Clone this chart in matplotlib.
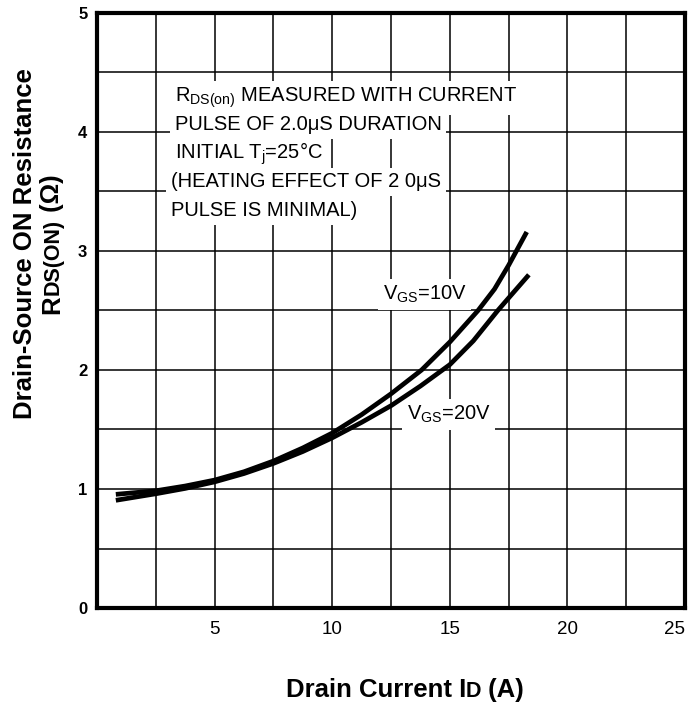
import matplotlib
matplotlib.use("Agg")
import matplotlib.pyplot as plt
from matplotlib.transforms import ScaledTranslation

plt.rcParams["font.family"] = ["Liberation Sans", "DejaVu Sans"]
plt.rcParams["mathtext.default"] = "regular"

# drain current (A) and on-resistance (ohm)
id_10v = [0.8, 2.5, 3.75, 5, 6.25, 7.5, 8.75, 10, 11.25, 12.5, 13.8, 15, 16.2, 16.9, 17.5, 18.27]
rds_10v = [0.955, 0.985, 1.025, 1.075, 1.145, 1.235, 1.345, 1.47, 1.625, 1.80, 2.0, 2.235,
           2.5, 2.68, 2.88, 3.16]
id_20v = [0.8, 2.5, 3.75, 5, 6.25, 7.5, 8.75, 10, 11.25, 12.5, 13.75, 15, 16, 17.04, 17.5, 18.36]
rds_20v = [0.905, 0.96, 1.005, 1.06, 1.13, 1.215, 1.315, 1.43, 1.56, 1.70, 1.865, 2.045,
           2.245, 2.5, 2.605, 2.80]

x_ticks = [5, 10, 15, 20, 25]
y_ticks = [0, 1, 2, 3, 4, 5]

note_lines = [
    r"R$_{\mathregular{DS(on)}}$ MEASURED WITH CURRENT",
    "PULSE OF 2.0\u03bcS DURATION",
    "INITIAL T$_{\\mathregular{j}}$=25\u00b0C",
    "(HEATING EFFECT OF 2 0\u03bcS",
    "PULSE IS MINIMAL)",
]
curve_labels = [r"V$_{\mathregular{GS}}$=10V", r"V$_{\mathregular{GS}}$=20V"]


def draw_pieces(fig, pieces, x, y, rotation=0):
    # lay out text pieces of mixed size on one baseline, centred on (x, y)
    renderer = fig.canvas.get_renderer()
    widths = []
    for text, size in pieces:
        t = fig.text(0, 0, text, fontsize=size, fontweight="bold")
        widths.append(t.get_window_extent(renderer).width)
        t.remove()
    offset = -sum(widths) / 2
    for (text, size), w in zip(pieces, widths):
        if rotation == 90:
            shift = ScaledTranslation(0, offset / fig.dpi, fig.dpi_scale_trans)
        else:
            shift = ScaledTranslation(offset / fig.dpi, 0, fig.dpi_scale_trans)
        fig.text(x, y, text, fontsize=size, fontweight="bold", rotation=rotation,
                 rotation_mode="anchor", ha="left", va="baseline",
                 transform=fig.transFigure + shift)
        offset += w


fig = plt.figure(figsize=(6.93, 7.02), dpi=100)
ax = fig.add_axes([0.14, 0.1339, 0.8485, 0.8476])

for xs, ys in [(id_10v, rds_10v), (id_20v, rds_20v)]:
    ax.plot(xs, ys, color="black", lw=3.4, solid_capstyle="butt",
            solid_joinstyle="round", zorder=3)

ax.set_xlim(0, 25)
ax.set_ylim(0, 5)
ax.set_xticks(x_ticks)
ax.set_xticks([v + 2.5 for v in [0] + x_ticks[:-1]], minor=True)
ax.set_yticks(y_ticks)
ax.set_yticks([v + 0.5 for v in y_ticks[:-1]], minor=True)
ax.grid(which="both", color="black", lw=1.1, zorder=1)
ax.set_axisbelow(True)
ax.tick_params(which="both", length=0)
ax.tick_params(axis="x", pad=9, labelsize=13.5)
ax.tick_params(axis="y", pad=7, labelsize=12)
for lab in ax.get_yticklabels():
    lab.set_fontweight("bold")
# keep the last x label inside the figure
ax.get_xticklabels()[-1].set_horizontalalignment("right")
for sp in ax.spines.values():
    sp.set_linewidth(3)

box = dict(facecolor="white", edgecolor="none", pad=3.5)
note_x = [3.3, 3.3, 3.3, 3.15, 3.15]
note_y = [4.252, 4.013, 3.773, 3.534, 3.294]
for text, nx, ny in zip(note_lines, note_x, note_y):
    ax.text(nx, ny, text, fontsize=14.5, va="baseline", ha="left", bbox=box, zorder=2)

ax.text(12.14, 2.59, curve_labels[0], fontsize=14.5, va="baseline", bbox=box, zorder=2)
ax.text(13.16, 1.58, curve_labels[1], fontsize=14.5, va="baseline", bbox=box, zorder=2)

draw_pieces(fig, [("Drain-Source ON Resistance", 18.5)], 0.0462, 0.6524, rotation=90)
draw_pieces(fig, [("R", 18.5), ("DS(ON)", 15.5), (" (\u03a9)", 18.5)], 0.0851, 0.6524, rotation=90)
draw_pieces(fig, [("Drain Current I", 18.5), ("D", 15.5), (" (A)", 18.5)], 0.5844, 0.0071)

fig.savefig("out.png", dpi=100)
